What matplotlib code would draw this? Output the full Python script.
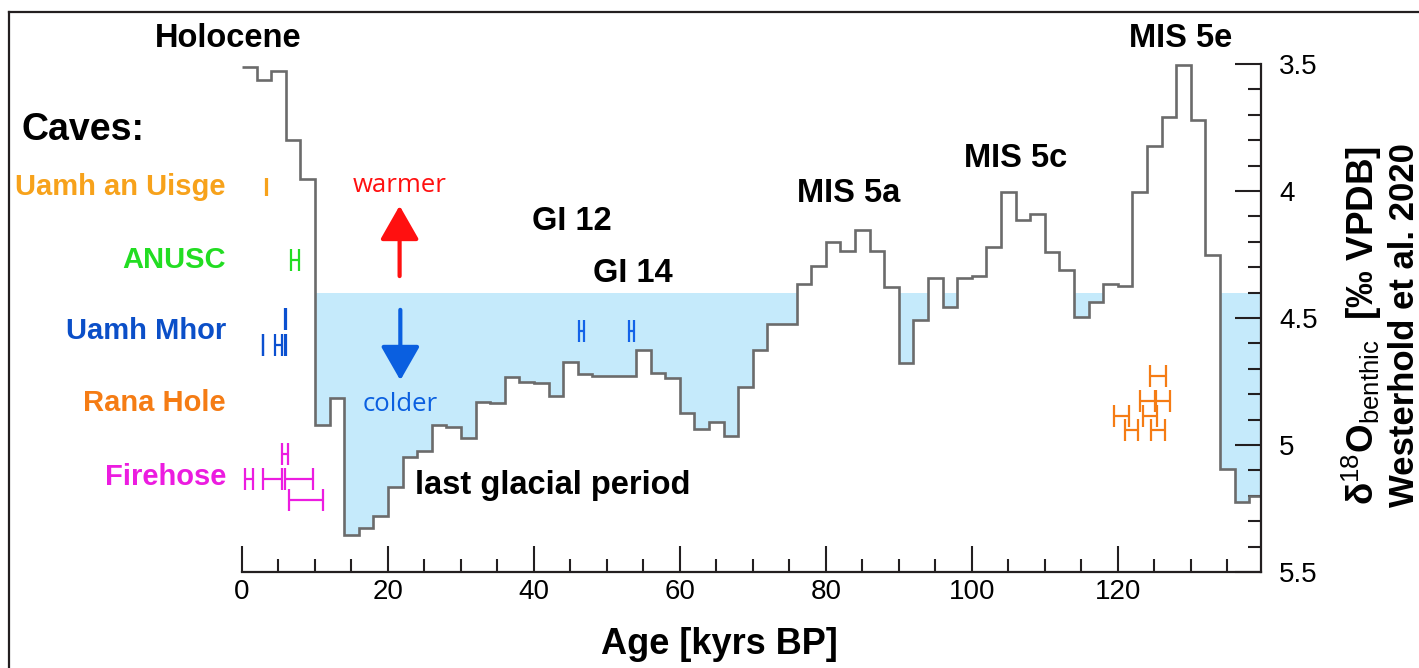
import matplotlib
matplotlib.use('Agg')
import matplotlib.pyplot as plt
from matplotlib.lines import Line2D
from matplotlib.ticker import MultipleLocator, FixedLocator
import numpy as np

plt.rcParams['font.family'] = ['Liberation Sans', 'DejaVu Sans']
plt.rcParams['mathtext.fontset'] = 'custom'
plt.rcParams['mathtext.rm'] = 'Liberation Sans'
plt.rcParams['mathtext.bf'] = 'Liberation Sans:bold'
plt.rcParams['mathtext.it'] = 'Liberation Sans:italic'

# benthic d18O (Westerhold et al. 2020), binned, kyr BP
age_edges = [0, 2, 4, 6, 8, 10, 12, 14, 16, 18, 20, 22, 24, 26, 28, 30,
             32, 34, 36, 38, 40, 42, 44, 46, 48, 50, 52, 54, 56, 58, 60,
             62, 64, 66, 68, 70, 72, 74, 76, 78, 80, 82, 84, 86, 88, 90,
             92, 94, 96, 98, 100, 102, 104, 106, 108, 110, 112, 114, 116,
             118, 120, 122, 124, 126, 128, 130, 132, 134, 136, 138, 139.6, 141]
d18o = [3.51, 3.563, 3.526, 3.80, 3.954, 4.92, 4.816, 5.354, 5.328, 5.28,
        5.164, 5.048, 5.024, 4.921, 4.928, 4.974, 4.83, 4.835, 4.733, 4.75,
        4.757, 4.807, 4.672, 4.72, 4.728, 4.728, 4.728, 4.626, 4.718, 4.738,
        4.875, 4.938, 4.908, 4.965, 4.773, 4.626, 4.525, 4.525, 4.366, 4.295,
        4.202, 4.235, 4.154, 4.235, 4.377, 4.676, 4.508, 4.341, 4.458, 4.341,
        4.335, 4.219, 4.005, 4.114, 4.092, 4.241, 4.311, 4.495, 4.436, 4.366,
        4.373, 4.003, 3.822, 3.707, 3.504, 3.72, 4.252, 5.096, 5.223, 5.20, 5.28]
GLACIAL_LEVEL = 4.4

# cave ages (x), row position, age uncertainty
uisge_age, uisge_row, uisge_err = [3.4], [3.984], [0.06]
anusc_age, anusc_row, anusc_err = [7.3], [4.272], [0.55]
mhor_age = [2.9, 5.0, 6.0, 6.0]
mhor_row = [4.606, 4.606, 4.606, 4.504]
mhor_err = [0.04, 0.45, 0.04, 0.04]
mhor2_age, mhor2_row, mhor2_err = [46.5, 53.4], [4.551, 4.551], [0.35, 0.35]
rana_age = [125.5, 124.0, 126.2, 120.5, 124.4, 121.9, 125.5]
rana_row = [4.728, 4.827, 4.827, 4.886, 4.886, 4.941, 4.941]
rana_err = [1.03, 1.03, 1.0, 1.03, 0.9, 0.9, 0.9]
fire_age = [0.94, 4.15, 7.8, 5.9, 8.8]
fire_row = [5.134, 5.134, 5.134, 5.035, 5.218]
fire_err = [0.53, 1.3, 1.9, 0.45, 2.3]

cave_names = ['Uamh an Uisge', 'ANUSC', 'Uamh Mhor', 'Rana Hole', 'Firehose']
cave_label_rows = [3.984, 4.272, 4.551, 4.835, 5.126]
cave_colors = ['#f7a21b', '#22dd22', '#0b4fc8', '#f57c14', '#ec1ce0']

LINE_C = '#6b6b6b'
FILL_C = '#c5eafb'
AX_C = '#231f20'

fig = plt.figure(figsize=(14.19, 6.68), dpi=100)
ax = fig.add_axes([0.1705, 0.1437, 0.7181, 0.7605])

ax.stairs(np.maximum(d18o, GLACIAL_LEVEL), age_edges, baseline=GLACIAL_LEVEL,
          fill=True, color=FILL_C, lw=0, zorder=1)
ax.stairs(d18o, age_edges, baseline=None, color=LINE_C, lw=1.9, zorder=3)

ax.set_xlim(0, 139.6)
ax.set_ylim(5.5, 3.5)

# caves
def caves(a, r, e, c, cap=8):
    ax.errorbar(a, r, xerr=e, fmt='none', ecolor=c, elinewidth=1.6,
                capsize=cap, capthick=1.6, zorder=4, clip_on=False)

caves(uisge_age, uisge_row, uisge_err, cave_colors[0], cap=6.5)
caves(anusc_age, anusc_row, anusc_err, cave_colors[1])
caves(mhor_age, mhor_row, mhor_err, '#0b50d0')
caves(mhor2_age, mhor2_row, mhor2_err, '#1463e8')
caves(rana_age, rana_row, rana_err, cave_colors[3])
caves(fire_age, fire_row, fire_err, cave_colors[4])

for name, row, c in zip(cave_names, cave_label_rows, cave_colors):
    ax.text(-2.2, row, name, ha='right', va='center', fontsize=21,
            fontweight='bold', color=c, clip_on=False)
ax.text(-30.2, 3.76, 'Caves:', ha='left', va='center', fontsize=27,
        fontweight='bold', color='black', clip_on=False)

# period labels
for s, x, y in [('Holocene', -1.9, 3.40), ('GI 12', 45.2, 4.122),
                ('GI 14', 53.6, 4.323), ('MIS 5a', 83.1, 4.008),
                ('MIS 5c', 106.0, 3.874), ('MIS 5e', 128.6, 3.398),
                ('last glacial period', 42.6, 5.161)]:
    ax.text(x, y, s, ha='center', va='center', fontsize=23.5,
            fontweight='bold', color='black', clip_on=False, zorder=5)

# warmer / colder arrows
ax.annotate('', xy=(21.6, 4.047), xytext=(21.6, 4.346),
            arrowprops=dict(arrowstyle='-|>,head_length=1.05,head_width=0.6',
                            color='#ff1010', lw=3, mutation_scale=20))
ax.annotate('', xy=(21.7, 4.756), xytext=(21.7, 4.457),
            arrowprops=dict(arrowstyle='-|>,head_length=1.05,head_width=0.6',
                            color='#0a5fe0', lw=3, mutation_scale=20))
ax.text(21.6, 3.98, 'warmer', ha='center', va='center', fontsize=18.5,
        color='#ff1010', family=['Open Sans', 'DejaVu Sans'])
ax.text(21.7, 4.84, 'colder', ha='center', va='center', fontsize=18.5,
        color='#0a5fe0', family=['Open Sans', 'DejaVu Sans'])

# axes styling
for sp in ['left', 'top']:
    ax.spines[sp].set_visible(False)
for sp in ['right', 'bottom']:
    ax.spines[sp].set_color(AX_C)
    ax.spines[sp].set_linewidth(1.6)
    ax.spines[sp].set_zorder(6)

ax.yaxis.tick_right()
ax.yaxis.set_major_locator(FixedLocator([3.5, 4, 4.5, 5, 5.5]))
ax.yaxis.set_minor_locator(MultipleLocator(0.1))
ax.set_yticklabels(['3.5', '4', '4.5', '5', '5.5'])
ax.xaxis.set_major_locator(MultipleLocator(20))
ax.xaxis.set_minor_locator(MultipleLocator(5))

ax.tick_params(axis='both', which='major', direction='in', length=19,
               width=1.5, color=AX_C)
ax.tick_params(axis='both', which='minor', direction='in', length=9.5,
               width=1.5, color=AX_C)
ax.tick_params(axis='y', which='major', labelsize=20, pad=13)
ax.tick_params(axis='x', which='major', labelsize=20, pad=5)

ax.text(0.469, -0.143, 'Age [kyrs BP]', transform=ax.transAxes,
        ha='center', va='center', fontsize=26, fontweight='bold')
ax.text(1.099, 0.132,
        r'$\mathbf{\delta}^{\mathrm{18}}\mathbf{O}_{\mathrm{benthic}}$  [‰ VPDB]',
        transform=ax.transAxes, rotation=90, ha='center', va='bottom',
        fontsize=26.5, fontweight='bold')
ax.text(1.141, 0.128, 'Westerhold et al. 2020', transform=ax.transAxes,
        rotation=90, ha='center', va='bottom', fontsize=25, fontweight='bold')

# outer frame (top and left edges)
fig.add_artist(Line2D([9 / 1419, 1], [1 - 12 / 668, 1 - 12 / 668],
                      transform=fig.transFigure, color=AX_C, lw=1.6))
fig.add_artist(Line2D([9 / 1419, 9 / 1419], [0, 1 - 12 / 668],
                      transform=fig.transFigure, color=AX_C, lw=1.6))

fig.savefig('out.png', dpi=100)
